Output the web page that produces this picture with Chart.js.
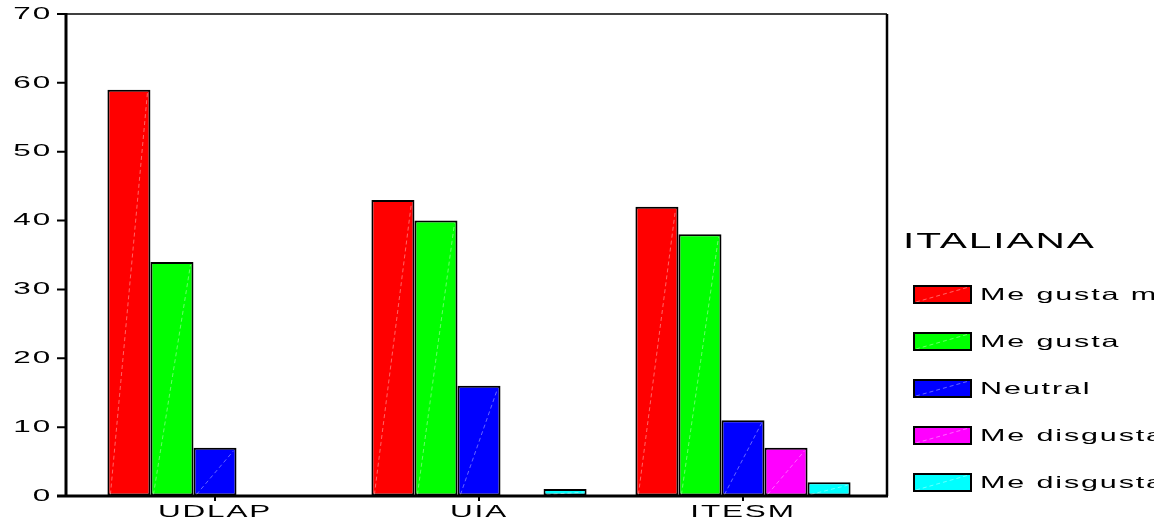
<!DOCTYPE html>
<html>
<head>
<meta charset="utf-8">
<title>ITALIANA</title>
<script src="https://cdn.jsdelivr.net/npm/chart.js@4.4.1/dist/chart.umd.min.js"></script>
<style>
    html, body { margin: 0; padding: 0; background: #fff; }
    canvas { display: block; }
</style>
</head>
<body>
<canvas id="chart" width="1164" height="522"></canvas>
<script>
const categories = ["UDLAP", "UIA", "ITESM"];
const seriesNames = ["Me gusta mucho", "Me gusta", "Neutral", "Me disgusta", "Me disgusta mucho"];
const meGustaMucho = [59, 43, 42];
const meGusta = [34, 40, 38];
const neutral = [7, 16, 11];
const meDisgusta = [0, 0, 7];
const meDisgustaMucho = [0, 1, 2];
const seriesColors = ["#ff0000", "#00ff00", "#0000ff", "#ff00ff", "#00ffff"];
const yTicks = [0, 10, 20, 30, 40, 50, 60, 70];
const legendTitle = "ITALIANA";

const FONT = "'Liberation Sans', Arial, sans-serif";
const STRETCH = 1.85; // the old chart uses very wide lettering

Chart.defaults.font.family = FONT;
Chart.defaults.color = "#000";

// stretch every text horizontally around its anchor point
const wideText = {
    id: "wideText",
    beforeInit(chart) {
        const ctx = chart.ctx;
        const fill = ctx.fillText.bind(ctx);
        const measure = ctx.measureText.bind(ctx);
        ctx.fillText = function (text, x, y, maxWidth) {
            ctx.save();
            ctx.translate(x, y);
            ctx.scale(STRETCH, 1);
            ctx.letterSpacing = "1px";
            if (maxWidth === undefined) fill(text, 0, 0);
            else fill(text, 0, 0, maxWidth / STRETCH);
            ctx.restore();
        };
        ctx.measureText = function (text) {
            ctx.save();
            ctx.letterSpacing = "1px";
            const m = measure(text);
            ctx.restore();
            return {
                width: m.width * STRETCH,
                actualBoundingBoxAscent: m.actualBoundingBoxAscent,
                actualBoundingBoxDescent: m.actualBoundingBoxDescent
            };
        };
    }
};

function diagonal(ctx, x1, y1, x2, y2) {
    ctx.save();
    ctx.strokeStyle = "rgba(255,255,255,0.4)";
    ctx.lineWidth = 1;
    ctx.setLineDash([4, 3]);
    ctx.beginPath();
    ctx.moveTo(x1, y1);
    ctx.lineTo(x2, y2);
    ctx.stroke();
    ctx.restore();
}

// faint diagonal streak inside each bar
const barStreaks = {
    id: "barStreaks",
    afterDatasetsDraw(chart) {
        const ctx = chart.ctx;
        chart.data.datasets.forEach((ds, i) => {
            chart.getDatasetMeta(i).data.forEach(bar => {
                const p = bar.getProps(["x", "y", "base", "width"], true);
                if (p.base - p.y < 4) return;
                diagonal(ctx, p.x - p.width / 2 + 3, p.base - 1, p.x + p.width / 2 - 3, p.y + 3);
            });
        });
    }
};

// box frame, axis lines and y tick marks
const frame = {
    id: "frame",
    afterDraw(chart) {
        const ctx = chart.ctx;
        const a = chart.chartArea;
        const xl = a.left - 17, xr = a.right + 12;
        ctx.save();
        ctx.strokeStyle = "#000";
        ctx.lineWidth = 1.5;
        ctx.beginPath();
        ctx.moveTo(xl, a.top);
        ctx.lineTo(xr, a.top);
        ctx.stroke();
        ctx.lineWidth = 2.5;
        ctx.beginPath();
        ctx.moveTo(xr, a.top);
        ctx.lineTo(xr, a.bottom);
        ctx.stroke();
        ctx.lineWidth = 3;
        ctx.beginPath();
        ctx.moveTo(xl, a.top - 1);
        ctx.lineTo(xl, a.bottom + 1);
        ctx.moveTo(xl - 9, a.bottom);
        ctx.lineTo(xr + 1, a.bottom);
        ctx.stroke();
        ctx.lineWidth = 2;
        ctx.beginPath();
        yTicks.forEach(v => {
            const y = chart.scales.y.getPixelForValue(v);
            ctx.moveTo(xl - 9, y);
            ctx.lineTo(xl, y);
        });
        ctx.stroke();
        ctx.restore();
    }
};

// legend on the right, its labels cut off like in the original
const sideLegend = {
    id: "sideLegend",
    afterDraw(chart) {
        const ctx = chart.ctx;
        const a = chart.chartArea;
        const left = a.right + 28;
        ctx.save();
        ctx.fillStyle = "#000";
        ctx.textAlign = "left";
        ctx.textBaseline = "middle";
        ctx.font = "22px " + FONT;
        ctx.fillText(legendTitle, left, a.top + 228);
        chart.data.datasets.forEach((ds, i) => {
            const bx = left + 10, by = a.top + 271 + i * 47;
            ctx.fillStyle = ds.backgroundColor;
            ctx.fillRect(bx, by, 59, 19);
            diagonal(ctx, bx + 3, by + 17, bx + 56, by + 2);
            ctx.strokeStyle = "#000";
            ctx.lineWidth = 2;
            ctx.strokeRect(bx + 1, by + 1, 57, 17);
            ctx.save();
            ctx.beginPath();
            ctx.rect(bx, by - 10, 241, 40);
            ctx.clip();
            ctx.fillStyle = "#000";
            ctx.font = "16.5px " + FONT;
            ctx.fillText(ds.label, bx + 67, by + 10);
            ctx.restore();
        });
        ctx.restore();
    }
};

const seriesValues = [meGustaMucho, meGusta, neutral, meDisgusta, meDisgustaMucho];

new Chart(document.getElementById("chart"), {
    type: "bar",
    data: {
        labels: categories,
        datasets: seriesNames.map((name, i) => ({
            label: name,
            data: seriesValues[i],
            backgroundColor: seriesColors[i],
            borderColor: "#000",
            borderWidth: 2,
            borderSkipped: false,
            categoryPercentage: 0.815,
            barPercentage: 1
        }))
    },
    options: {
        responsive: false,
        animation: false,
        layout: { padding: { top: 14, right: 289, left: 0, bottom: 0 } },
        plugins: {
            legend: { display: false },
            tooltip: { enabled: false }
        },
        scales: {
            x: {
                grid: { drawOnChartArea: false, drawTicks: true, tickLength: 5, offset: false, color: "#000", lineWidth: 2 },
                border: { display: false },
                ticks: { font: { size: 17 }, padding: 1, maxRotation: 0, autoSkip: false },
                afterFit(s) { s.height = 26; }
            },
            y: {
                min: 0,
                max: 70,
                // invisible tick marks only keep the labels away from the frame
                grid: { drawOnChartArea: false, drawTicks: true, tickLength: 30, color: "rgba(0,0,0,0)" },
                border: { display: false },
                ticks: { stepSize: 10, font: { size: 17 }, padding: 1 },
                afterFit(s) { s.width = 83; }
            }
        }
    },
    plugins: [wideText, barStreaks, frame, sideLegend]
});
</script>
</body>
</html>
